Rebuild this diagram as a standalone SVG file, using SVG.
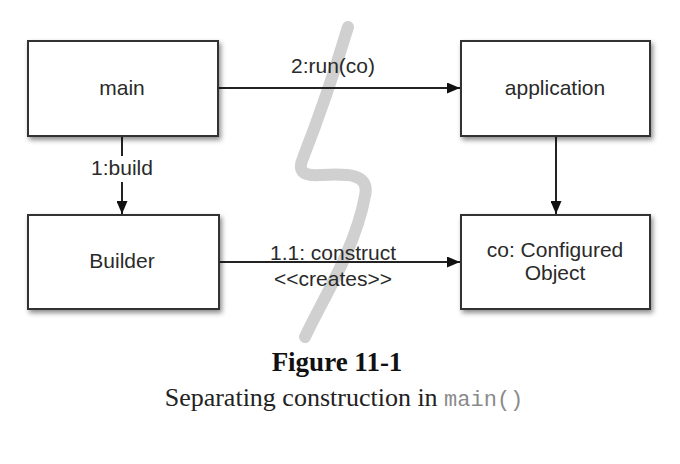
<svg xmlns="http://www.w3.org/2000/svg" width="680" height="464" viewBox="0 0 680 464">
<style>
.box{fill:#fff;stroke:#333;stroke-width:2;filter:url(#sh)}
.lbl{font-family:"Liberation Sans",Arial,sans-serif;font-size:21px;fill:#2a2a2a;text-anchor:middle}
.edge{stroke:#222;stroke-width:2;fill:none;marker-end:url(#ah)}
</style>
<defs>
<filter id="sh" x="-10%" y="-10%" width="130%" height="140%">
<feDropShadow dx="2" dy="3" stdDeviation="2.5" flood-color="#000" flood-opacity="0.45"/>
</filter>
<marker id="ah" viewBox="0 0 13 11" refX="13" refY="5.5" markerWidth="13" markerHeight="11" markerUnits="userSpaceOnUse" orient="auto">
<path d="M0,0 L13,5.5 L0,11 Z" fill="#111"/>
</marker>
</defs>
<rect width="680" height="464" fill="#fff"/>
<path d="M348,27 C 332,80 312,135 303,158 C 297,172 304,176 320,175 C 345,174 370,172 365,196 C 355,250 322,300 305,337" fill="none" stroke="#d0d0d0" stroke-width="12" stroke-linecap="round"/>
<g id="connectors">
<line class="edge" x1="219" y1="88" x2="460" y2="88"/>
<line class="edge" x1="220" y1="262" x2="460" y2="262"/>
<line class="edge" x1="122" y1="137" x2="122" y2="214"/>
<line class="edge" x1="556" y1="137" x2="556" y2="214"/>
<rect x="88" y="156" width="68" height="26" fill="#fff"/>
<text class="lbl" x="122" y="175">1:build</text>
<text class="lbl" x="333" y="73">2:run(co)</text>
<text class="lbl" x="333" y="260">1.1: construct</text>
<text class="lbl" x="333" y="286">&lt;&lt;creates&gt;&gt;</text>
</g>
<g id="main"><rect class="box" x="28" y="41" width="190" height="95"/><text class="lbl" x="122" y="95">main</text></g>
<g id="application"><rect class="box" x="461" y="41" width="189" height="95"/><text class="lbl" x="555" y="95">application</text></g>
<g id="builder"><rect class="box" x="28" y="215" width="191" height="94"/><text class="lbl" x="122" y="268">Builder</text></g>
<g id="co"><rect class="box" x="461" y="215" width="189" height="94"/><text class="lbl" x="555" y="257">co: Configured</text><text class="lbl" x="555" y="280">Object</text></g>
<text x="337" y="371" font-family="'Liberation Serif','Times New Roman',serif" font-size="27" font-weight="bold" fill="#111" text-anchor="middle">Figure 11-1</text>
<text x="344" y="406" font-family="'Liberation Serif','Times New Roman',serif" font-size="26" fill="#222" text-anchor="middle">Separating construction in <tspan font-family="'Liberation Mono','Courier New',monospace" font-size="22" fill="#8a8a8a">main()</tspan></text>
</svg>
